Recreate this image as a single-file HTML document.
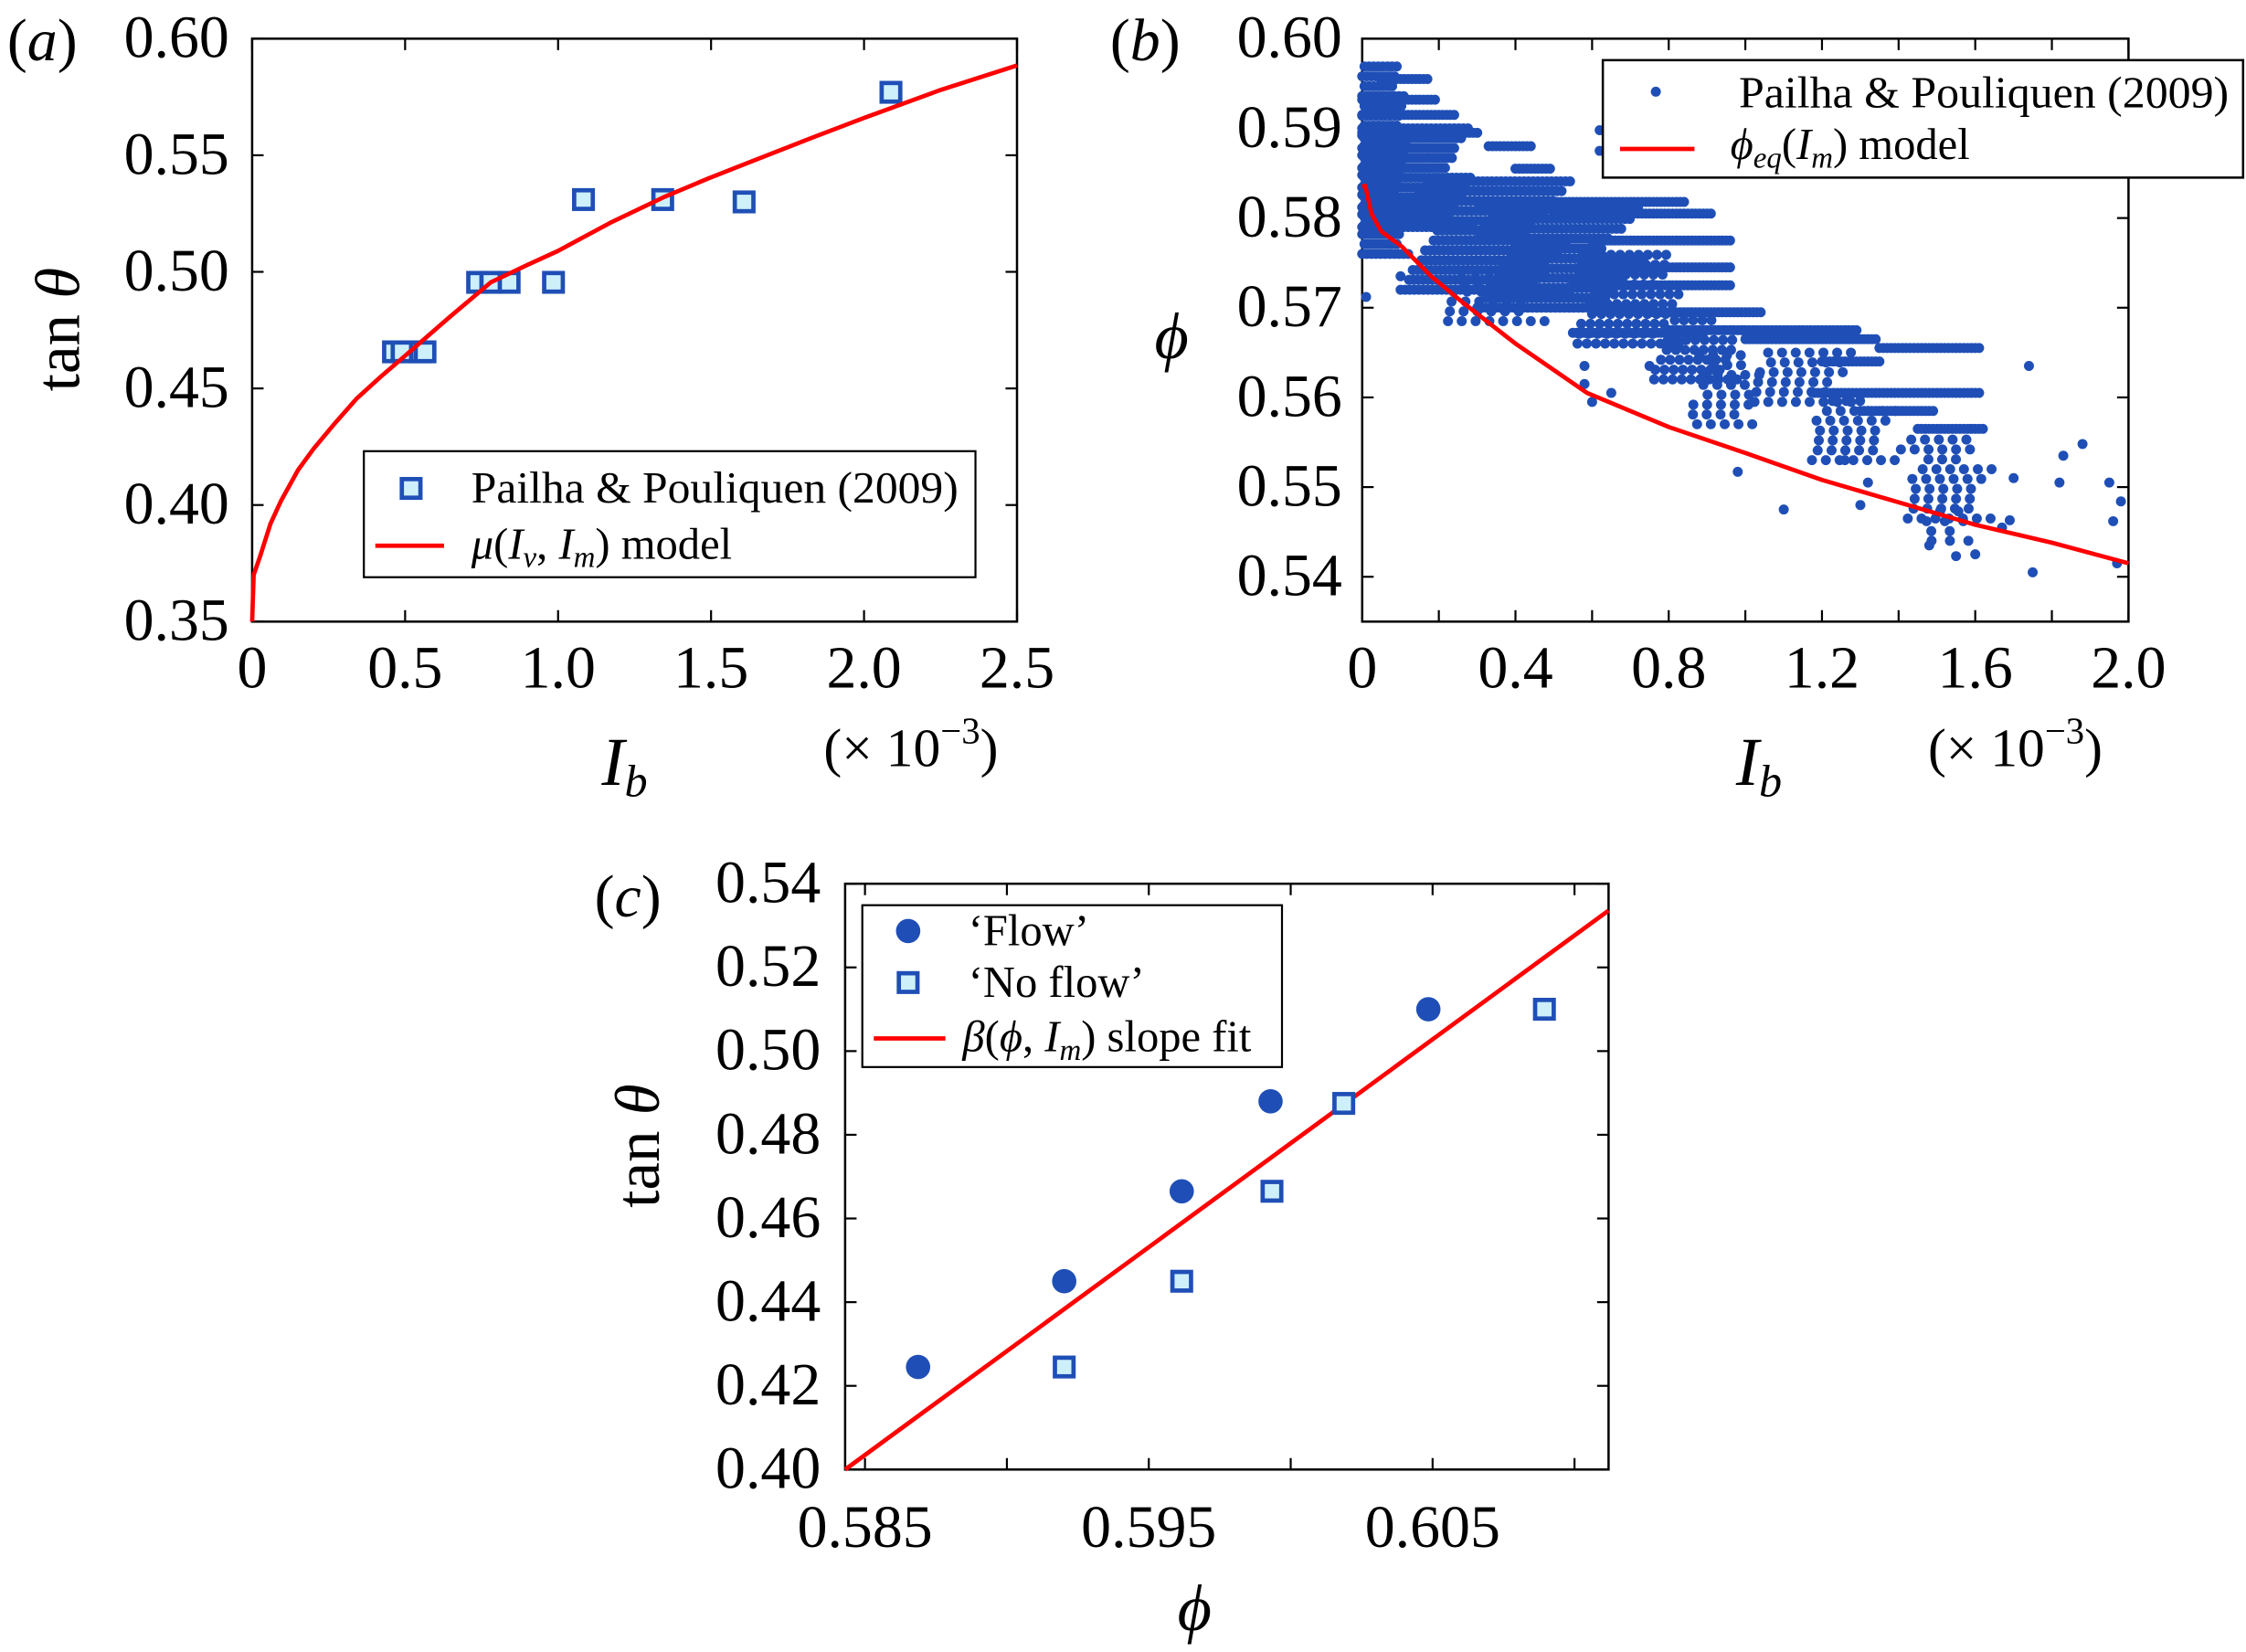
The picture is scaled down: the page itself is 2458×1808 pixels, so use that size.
<!DOCTYPE html>
<html><head><meta charset="utf-8"><style>
html,body{margin:0;padding:0;background:#fff}
svg{display:block;font-family:"Liberation Serif",serif}
</style></head><body>
<svg id="fig" xmlns="http://www.w3.org/2000/svg" width="2458" height="1808" viewBox="0 0 1568 1153.4">
<rect width="1568" height="1153.4" fill="#fff"/>
<g id="pa"></g>
<g id="pb"></g>
<g id="pc"></g>
</svg>
<script>
// ---------- Panel (a) data ----------
const aPtsX = [0.462,0.49,0.55,0.565,0.737,0.78,0.84,0.985,1.083,1.342,1.608,2.088];
const aPtsY = [0.4657,0.4657,0.4657,0.4657,0.4955,0.4955,0.4955,0.4955,0.531,0.531,0.530,0.577];
const aCurveX = [0,0.005,0.026,0.06,0.094,0.15,0.2,0.27,0.342,0.42,0.5,0.64,0.78,0.9,1.0,1.17,1.345,1.49,1.635,1.82,2.0,2.25,2.5];
const aCurveY = [0.35,0.37,0.378,0.392,0.4017,0.415,0.424,0.435,0.4457,0.455,0.464,0.480,0.4955,0.503,0.509,0.521,0.532,0.540,0.5475,0.557,0.566,0.578,0.5885];
const aXTicks = [0,0.5,1.0,1.5,2.0,2.5];
const aXTickLabels = ["0","0.5","1.0","1.5","2.0","2.5"];
const aYTicks = [0.35,0.40,0.45,0.50,0.55,0.60];
const aYTickLabels = ["0.35","0.40","0.45","0.50","0.55","0.60"];
// ---------- Panel (b) data ----------
const bBlockX0 = [0,0,0.1,0.3,0.2,0.55,0.75,0.85,1.0,1.15,1.4,1.45];
const bBlockX1 = [0.12,0.3,0.55,0.75,0.5,0.85,1.0,1.05,1.3,1.4,1.65,1.6];
const bBlockY0 = [0.576,0.579,0.572,0.570,0.5685,0.566,0.562,0.557,0.5595,0.553,0.5465,0.544];
const bBlockY1 = [0.597,0.591,0.585,0.582,0.574,0.576,0.569,0.565,0.566,0.560,0.5555,0.548];
const bBlockSkip = [1,1,1,1,3,2,2,3,3,3,3,4];
const bStreakX0 = [0.05,0,0,0,0.33,0.4,0.3,0.5,0.6,0.6,0.55,0.75,0.8,1.0,1.35,1.2,1.18,1.3,1.45,0.55];
const bStreakX1 = [0.18,0.2,0.25,0.31,0.45,0.5,0.85,0.92,0.97,0.97,0.97,1.05,1.3,1.35,1.62,1.35,1.62,1.5,1.62,0.9];
const bStreakY = [0.5955,0.5932,0.5915,0.5895,0.588,0.5855,0.5818,0.5805,0.5775,0.5745,0.5725,0.5695,0.5675,0.5665,0.5655,0.564,0.5605,0.5585,0.5565,0.5672];
const bSingleX = [0.01,0.1,0.58,0.58,0.65,0.6,0.75,0.62,0.62,0.65,1.74,1.75,1.82,1.88,1.95,1.96,1.98,1.97,1.55,1.6,1.48,1.3,1.1,0.98,1.32,1.26,1.83,1.69,1.7,1.67];
const bSingleY = [0.5712,0.5735,0.5635,0.5615,0.5605,0.5595,0.5635,0.5898,0.5875,0.5855,0.5635,0.5405,0.5505,0.5548,0.5505,0.5462,0.5484,0.5415,0.5423,0.5425,0.5435,0.548,0.5475,0.5517,0.5505,0.553,0.5535,0.5463,0.551,0.5455];
const bCurveX = [0,0.008,0.024,0.05,0.104,0.18,0.265,0.4,0.587,0.8,1.0,1.2,1.4,1.6,1.8,2.0];
const bCurveY = [0.5835,0.5836,0.5805,0.5785,0.5768,0.5735,0.5705,0.566,0.5605,0.5567,0.5538,0.5508,0.5483,0.5458,0.5438,0.5415];
const bXTicks = [0,0.4,0.8,1.2,1.6,2.0];
const bXTickLabels = ["0","0.4","0.8","1.2","1.6","2.0"];
const bYTicks = [0.54,0.55,0.56,0.57,0.58,0.59,0.60];
const bYTickLabels = ["0.54","0.55","0.56","0.57","0.58","0.59","0.60"];
// ---------- Panel (c) data ----------
const cFlowX = [0.58687,0.59202,0.59616,0.59929,0.60485];
const cFlowY = [0.4245,0.445,0.4665,0.488,0.510];
const cNoFlowX = [0.59202,0.59616,0.59934,0.60187,0.60894];
const cNoFlowY = [0.4245,0.445,0.4665,0.4875,0.510];
const cFitX = [0.5843,0.6112];
const cFitY = [0.40,0.5336];
const cXTicks = [0.585,0.595,0.605];
const cXTickLabels = ["0.585","0.595","0.605"];
const cXMinor = [0.590,0.600,0.610];
const cYTicks = [0.40,0.42,0.44,0.46,0.48,0.50,0.52,0.54];
const cYTickLabels = ["0.40","0.42","0.44","0.46","0.48","0.50","0.52","0.54"];

const NS="http://www.w3.org/2000/svg";
const BLUE="#1f4fb6", RED="#ff0000", LIGHT="#cdf0fb";
function mk(parent,tag,attrs,text){const e=document.createElementNS(NS,tag);for(const k in attrs)e.setAttribute(k,attrs[k]);if(text!==undefined)e.textContent=text;parent.appendChild(e);return e;}
function lin(d0,d1,p0,p1){return v=>p0+(v-d0)/(d1-d0)*(p1-p0);}

function frame(g,L,T,R,B,xs,ys,xt,yt,name){
  const r=mk(g,'rect',{x:L,y:T,width:R-L,height:B-T,fill:'none',stroke:'#000','stroke-width':1.6});
  
  
  xt.forEach(v=>{const x=xs(v);mk(g,'line',{x1:x,y1:B,x2:x,y2:B-8,stroke:'#000','stroke-width':1.4});mk(g,'line',{x1:x,y1:T,x2:x,y2:T+8,stroke:'#000','stroke-width':1.4});});
  yt.forEach(v=>{const y=ys(v);mk(g,'line',{x1:L,y1:y,x2:L+8,y2:y,stroke:'#000','stroke-width':1.4});mk(g,'line',{x1:R,y1:y,x2:R-8,y2:y,stroke:'#000','stroke-width':1.4});});
}
function tickLabels(g,xs,ys,xt,xl,yt,yl,xBase,yRight,name){
  xt.forEach((v,i)=>{const t=mk(g,'text',{x:xs(v),y:xBase,'font-size':42,'text-anchor':'middle'},xl[i]);
    
    });
  yt.forEach((v,i)=>{const t=mk(g,'text',{x:yRight,y:ys(v)+13,'font-size':42,'text-anchor':'end'},yl[i]);
    
    });
}
function square(g,x,y,name){const s=mk(g,'rect',{x:x-6.5,y:y-6.5,width:13,height:13,fill:LIGHT,stroke:BLUE,'stroke-width':3});
  
  return s;}
function path(xs,ys,X,Y){return X.map((v,i)=>(i?'L':'M')+xs(v).toFixed(2)+' '+ys(Y[i]).toFixed(2)).join(' ');}

// ===== Panel A =====
(function(){
  const g=document.getElementById('pa');
  const L=176,R=710,T=27,B=434;
  const xs=lin(0,2.5,L,R), ys=lin(0.35,0.60,B,T);
  frame(g,L,T,R,B,xs,ys,aXTicks,aYTicks,'panel-a');
  tickLabels(g,xs,ys,aXTicks,aXTickLabels,aYTicks,aYTickLabels,480,160,'panel-a');
  aPtsX.forEach((v,i)=>square(g,xs(v),ys(aPtsY[i]),'data-point-square'));
  const c=mk(g,'path',{d:path(xs,ys,aCurveX,aCurveY),fill:'none',stroke:RED,'stroke-width':3,'stroke-linejoin':'round'});
  
  
  const lg=mk(g,'g',{});
  
  
  mk(lg,'rect',{x:254,y:315,width:427,height:88,fill:'#fff',stroke:'#000','stroke-width':1.4});
  square(lg,287,341,'legend-marker-square');
  mk(lg,'text',{x:329,y:351,'font-size':31,textLength:340,lengthAdjust:'spacingAndGlyphs'},'Pailha & Pouliquen (2009)');
  mk(lg,'line',{x1:262,y1:381,x2:310,y2:381,stroke:RED,'stroke-width':3});
  const t=mk(lg,'text',{x:329,y:390,'font-size':31});
  t.innerHTML='<tspan font-style="italic">μ</tspan>(<tspan font-style="italic">I</tspan><tspan font-style="italic" font-size="21" dy="6">v</tspan><tspan dy="-6">, </tspan><tspan font-style="italic">I</tspan><tspan font-style="italic" font-size="21" dy="6">m</tspan><tspan dy="-6">) model</tspan>';
  const pl=mk(g,'text',{x:5,y:42,'font-size':42},'');pl.innerHTML='(<tspan font-style="italic">a</tspan>)';
  
  
  const yl=mk(g,'text',{transform:'translate(55,230) rotate(-90)','font-size':44,'text-anchor':'middle'});
  yl.innerHTML='tan <tspan font-style="italic">θ</tspan>';
  
  
  const xl=mk(g,'text',{x:420,y:548,'font-size':48,'font-style':'italic'});xl.innerHTML='I<tspan font-size="32" dy="8">b</tspan>';
  
  
  const sc=mk(g,'text',{x:575,y:535,'font-size':38});sc.innerHTML='(× 10<tspan font-size="26" dy="-16">−3</tspan><tspan dy="16">)</tspan>';
  
  
})();

// ===== Panel B =====
(function(){
  const g=document.getElementById('pb');
  const L=951,R=1486,T=27,B=434;
  const xs=lin(0,2.0,L,R), ys=lin(0.535,0.60,B,T);
  const minor=[0,0.2,0.4,0.6,0.8,1.0,1.2,1.4,1.6,1.8,2.0];
  frame(g,L,T,R,B,xs,ys,minor,bYTicks,'panel-b');
  tickLabels(g,xs,ys,bXTicks,bXTickLabels,bYTicks,bYTickLabels,480,937,'panel-b');
  const dots=mk(g,'g',{fill:BLUE});
  
  
  const r=3.5;
  bBlockX0.forEach((x0,i)=>{
    let k=0, j=0;
    const w=bBlockX1[i]-x0;
    for(let y=bBlockY0[i];y<=bBlockY1[i];y+=0.0011, j++){
      const xa = x0>0 ? x0 + ((j*29)%7)/7*0.25*w : x0;
      const xb = bBlockX1[i] - ((j*53)%11)/11*0.3*w;
      const off = (j%2)*0.006;
      for(let x=xa+off;x<=xb;x+=0.012){k++; if(k%bBlockSkip[i])continue;
        mk(dots,'circle',{cx:xs(x).toFixed(1),cy:ys(y).toFixed(1),r:r});}
    }
  });
  bStreakX0.forEach((x0,i)=>{for(let x=x0;x<=bStreakX1[i];x+=0.01)mk(dots,'circle',{cx:xs(x).toFixed(1),cy:ys(bStreakY[i]).toFixed(1),r:r});});
  bSingleX.forEach((x,i)=>mk(dots,'circle',{cx:xs(x).toFixed(1),cy:ys(bSingleY[i]).toFixed(1),r:r}));
  const c=mk(g,'path',{d:path(xs,ys,bCurveX,bCurveY),fill:'none',stroke:RED,'stroke-width':3,'stroke-linejoin':'round'});
  
  
  const lg=mk(g,'g',{});
  
  
  mk(lg,'rect',{x:1119,y:42,width:447,height:82,fill:'#fff',stroke:'#000','stroke-width':1.6});
  mk(lg,'circle',{cx:1156,cy:64,r:3.5,fill:BLUE});
  mk(lg,'text',{x:1214,y:75,'font-size':31,textLength:342,lengthAdjust:'spacingAndGlyphs'},'Pailha & Pouliquen (2009)');
  mk(lg,'line',{x1:1131,y1:104,x2:1183,y2:104,stroke:RED,'stroke-width':3});
  const t=mk(lg,'text',{x:1208,y:111,'font-size':31});
  t.innerHTML='<tspan font-style="italic">ϕ</tspan><tspan font-style="italic" font-size="21" dy="6">eq</tspan><tspan dy="-6">(</tspan><tspan font-style="italic">I</tspan><tspan font-style="italic" font-size="21" dy="6">m</tspan><tspan dy="-6">) model</tspan>';
  const pl=mk(g,'text',{x:775,y:42,'font-size':42});pl.innerHTML='(<tspan font-style="italic">b</tspan>)';
  
  
  const yl=mk(g,'text',{x:806,y:250,'font-size':46,'font-style':'italic'},'ϕ');
  
  
  const xl=mk(g,'text',{x:1212,y:548,'font-size':48,'font-style':'italic'});xl.innerHTML='I<tspan font-size="32" dy="8">b</tspan>';
  
  
  const sc=mk(g,'text',{x:1346,y:535,'font-size':38});sc.innerHTML='(× 10<tspan font-size="26" dy="-16">−3</tspan><tspan dy="16">)</tspan>';
  
  
})();

// ===== Panel C =====
(function(){
  const g=document.getElementById('pc');
  const L=590,R=1123,T=617,B=1026;
  const xs=lin(0.5843,0.6112,L,R), ys=lin(0.40,0.54,B,T);
  frame(g,L,T,R,B,xs,ys,cXTicks.concat(cXMinor),cYTicks,'panel-c');
  tickLabels(g,xs,ys,cXTicks,cXTickLabels,cYTicks,cYTickLabels,1080,573,'panel-c');
  const c=mk(g,'path',{d:path(xs,ys,cFitX,cFitY),fill:'none',stroke:RED,'stroke-width':3});
  
  
  cFlowX.forEach((v,i)=>{const d=mk(g,'circle',{cx:xs(v),cy:ys(cFlowY[i]),r:8.5,fill:BLUE});
    
    });
  cNoFlowX.forEach((v,i)=>square(g,xs(v),ys(cNoFlowY[i]),'no-flow-point'));
  const lg=mk(g,'g',{});
  
  
  mk(lg,'rect',{x:602,y:632,width:293,height:113,fill:'#fff',stroke:'#000','stroke-width':1.4});
  mk(lg,'circle',{cx:634,cy:650,r:8.5,fill:BLUE});
  mk(lg,'text',{x:676,y:660,'font-size':31},'‘Flow’');
  square(lg,634,686,'legend-marker-square');
  mk(lg,'text',{x:676,y:696,'font-size':31},'‘No flow’');
  mk(lg,'line',{x1:610,y1:725,x2:660,y2:725,stroke:RED,'stroke-width':3});
  const t=mk(lg,'text',{x:672,y:734,'font-size':31});
  t.innerHTML='<tspan font-style="italic">β</tspan>(<tspan font-style="italic">ϕ</tspan>, <tspan font-style="italic">I</tspan><tspan font-style="italic" font-size="21" dy="6">m</tspan><tspan dy="-6">) slope fit</tspan>';
  const pl=mk(g,'text',{x:415,y:640,'font-size':42});pl.innerHTML='(<tspan font-style="italic">c</tspan>)';
  
  
  const yl=mk(g,'text',{transform:'translate(460,800) rotate(-90)','font-size':44,'text-anchor':'middle'});
  yl.innerHTML='tan <tspan font-style="italic">θ</tspan>';
  
  
  const xl=mk(g,'text',{x:822,y:1138,'font-size':46,'font-style':'italic'},'ϕ');
  
  
})();
</script>
</body></html>
